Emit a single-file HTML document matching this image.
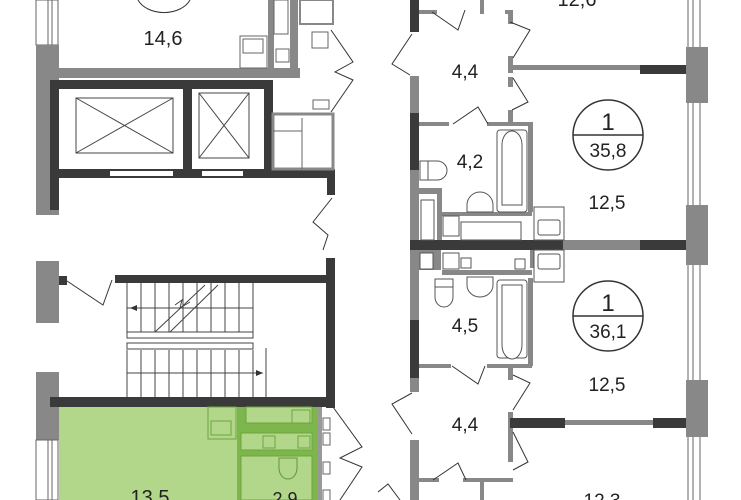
<!DOCTYPE html>
<html><head><style>html,body{margin:0;padding:0;background:#fff}svg{display:block}text{font-family:"Liberation Sans",sans-serif;fill:#222}</style></head>
<body>
<svg width="741" height="500" viewBox="0 0 741 500" xmlns="http://www.w3.org/2000/svg">
<rect x="36" y="0" width="22" height="45" fill="#fff" stroke="#666" stroke-width="1"/>
<line x1="48" y1="0" x2="48" y2="45" stroke="#666"/><line x1="52" y1="0" x2="52" y2="45" stroke="#666"/>
<rect x="36" y="45" width="23" height="170" fill="#888"/>
<rect x="58" y="68" width="242" height="10" fill="#888"/>
<rect x="268" y="0" width="6" height="70" fill="#888"/>
<rect x="290" y="0" width="8" height="75" fill="#888"/>
<rect x="274" y="0" width="14" height="34" fill="#fff" stroke="#666"/>
<rect x="276" y="49" width="13" height="13" fill="#fff" stroke="#666"/>
<rect x="240" y="36" width="27" height="32" fill="#fff" stroke="#666"/>
<rect x="243" y="39" width="20" height="14" fill="#fff" stroke="#666"/>
<rect x="300" y="0" width="33" height="24" fill="#fff" stroke="#888" stroke-width="2"/>
<rect x="312" y="32" width="16" height="16" fill="#fff" stroke="#666"/>
<rect x="313" y="100" width="16" height="9" fill="#fff" stroke="#666"/>
<text x="163" y="45" font-size="20" text-anchor="middle">14,6</text>
<path d="M138,0 A28,20 0 0 0 190,0" fill="none" stroke="#333"/>
<rect x="50" y="80" width="223" height="9" fill="#3a3a3a"/>
<rect x="50" y="80" width="9" height="130" fill="#3a3a3a"/>
<rect x="183" y="80" width="9" height="98" fill="#3a3a3a"/>
<rect x="264" y="80" width="9" height="98" fill="#3a3a3a"/>
<rect x="50" y="169" width="285" height="9" fill="#3a3a3a"/>
<rect x="110" y="171" width="63" height="5" fill="#fff"/>
<rect x="202" y="171" width="41" height="5" fill="#fff"/>
<rect x="327" y="169" width="8" height="26" fill="#3a3a3a"/>
<rect x="76" y="98" width="97" height="55" fill="none" stroke="#444"/>
<path d="M76,98L173,153M173,98L76,153" stroke="#444"/>
<rect x="199" y="93" width="50" height="65" fill="none" stroke="#444"/>
<path d="M199,93L249,158M249,93L199,158" stroke="#444"/>
<rect x="273" y="114" width="60" height="55" fill="#fff" stroke="#888" stroke-width="3"/>
<line x1="273" y1="131" x2="302" y2="131" stroke="#666"/><line x1="302" y1="118" x2="302" y2="169" stroke="#666"/>
<path d="M331,30 L353,62 L335,72 L353,80 L331,112" fill="none" stroke="#333"/>
<path d="M332,198 L313,222 L328,235 L323,250" fill="none" stroke="#333"/>
<rect x="36" y="261" width="23" height="62" fill="#888"/>
<rect x="59" y="276" width="8" height="9" fill="#3a3a3a"/>
<path d="M67,281 L103,305 L112,280" fill="none" stroke="#333"/>
<rect x="36" y="372" width="23" height="68" fill="#888"/>
<rect x="36" y="440" width="22" height="60" fill="#fff" stroke="#666"/>
<line x1="48" y1="440" x2="48" y2="500" stroke="#666"/><line x1="52" y1="440" x2="52" y2="500" stroke="#666"/>
<rect x="115" y="275" width="212" height="8" fill="#3a3a3a"/>
<rect x="326" y="258" width="9" height="150" fill="#3a3a3a"/>
<rect x="50" y="397" width="285" height="10" fill="#3a3a3a"/>
<g stroke="#444" fill="none">
<path d="M127,283V332M141,283V332M155,283V332M169,283V332M183,283V332M197,283V332M211,283V332M225,283V332M239,283V332M253,283V332"/>
<path d="M127,350V397M141,350V397M155,350V397M169,350V397M183,350V397M197,350V397M211,350V397M225,350V397M239,350V397M253,350V397M266,348V397"/>
<path d="M127,308H253M127,373H263"/>
<rect x="127" y="332" width="126" height="6"/><rect x="127" y="343" width="126" height="6"/>
<path d="M155,332L205,285M170,332L218,285"/>
<path d="M175,305L182,300L180,308L190,302"/>
</g>
<path d="M130,308l7,-3v6z M263,373l-7,-3v6z" fill="#333"/>
<rect x="59" y="407" width="262" height="93" fill="#b2d68a"/>
<rect x="237" y="407" width="81" height="93" fill="#7eb64e"/>
<rect x="246" y="407" width="66" height="16" fill="#b2d68a" stroke="#6da63f"/>
<rect x="292" y="410" width="18" height="13" fill="#b2d68a" stroke="#6da63f"/>
<rect x="241" y="433" width="71" height="17" fill="#b2d68a" stroke="#6da63f"/>
<rect x="263" y="436" width="12" height="12" fill="#b2d68a" stroke="#6da63f"/>
<rect x="298" y="436" width="12" height="12" fill="#b2d68a" stroke="#6da63f"/>
<rect x="241" y="456" width="71" height="44" fill="#b2d68a" stroke="#6da63f"/>
<rect x="208" y="407" width="28" height="32" fill="#b2d68a" stroke="#6da63f"/>
<rect x="211" y="421" width="20" height="14" fill="none" stroke="#6da63f"/>
<path d="M279,458h18v10a9,11 0 1 1 -18,0z" fill="none" stroke="#5e9a35"/>
<rect x="318" y="407" width="4" height="93" fill="#999"/>
<g fill="#fff" stroke="#666"><rect x="323" y="418" width="7" height="12"/><rect x="323" y="433" width="7" height="12"/><rect x="323" y="462" width="7" height="12"/><rect x="323" y="490" width="7" height="12"/></g>
<path d="M333,407 L362,447 L340,458 L362,467 L340,500" fill="none" stroke="#333"/>
<text x="150" y="504" font-size="20" text-anchor="middle">13,5</text>
<text x="285" y="505" font-size="18" text-anchor="middle">2,9</text>
<rect x="410" y="0" width="9" height="32" fill="#3a3a3a"/>
<rect x="410" y="76" width="9" height="37" fill="#888"/>
<rect x="410" y="113" width="9" height="57" fill="#3a3a3a"/>
<rect x="410" y="170" width="9" height="70" fill="#888"/>
<rect x="410" y="250" width="9" height="70" fill="#888"/>
<rect x="410" y="320" width="9" height="58" fill="#3a3a3a"/>
<rect x="410" y="378" width="9" height="14" fill="#888"/>
<rect x="410" y="440" width="9" height="60" fill="#888"/>
<path d="M412,34 L392,64 L410,75" fill="none" stroke="#333"/>
<path d="M412,393 L392,404 L412,434" fill="none" stroke="#333"/>
<path d="M400,500 L388,484 L378,492" fill="none" stroke="#333"/>
<g fill="#888">
<rect x="419" y="10" width="18" height="4"/><rect x="480" y="0" width="4" height="14"/><rect x="505" y="10" width="7" height="4"/>
<rect x="508" y="10" width="5" height="14"/><rect x="508" y="56" width="5" height="17"/><rect x="512" y="65" width="128" height="5"/>
<rect x="508" y="77" width="5" height="10"/><rect x="508" y="110" width="5" height="14"/>
<rect x="419" y="122" width="30" height="4"/><rect x="487" y="122" width="45" height="4"/><rect x="528" y="122" width="5" height="90"/>
<rect x="419" y="188" width="22" height="6"/><rect x="437" y="188" width="5" height="52"/><rect x="442" y="212" width="90" height="4"/>
<rect x="535" y="240" width="110" height="10"/>
<rect x="419" y="250" width="22" height="20"/><rect x="442" y="270" width="90" height="5"/><rect x="530" y="250" width="5" height="18"/>
<rect x="528" y="278" width="5" height="88"/><rect x="419" y="364" width="32" height="4"/><rect x="487" y="364" width="45" height="4"/>
<rect x="508" y="368" width="5" height="12"/><rect x="508" y="412" width="5" height="50"/><rect x="565" y="420" width="88" height="5"/>
<rect x="419" y="478" width="20" height="4"/><rect x="463" y="478" width="50" height="4"/><rect x="480" y="478" width="4" height="22"/>
</g>
<rect x="410" y="240" width="153" height="10" fill="#3a3a3a"/>
<rect x="640" y="240" width="57" height="10" fill="#3a3a3a"/>
<rect x="640" y="65" width="57" height="9" fill="#3a3a3a"/>
<rect x="510" y="418" width="55" height="10" fill="#3a3a3a"/>
<rect x="653" y="418" width="44" height="10" fill="#3a3a3a"/>
<g fill="#888"><rect x="686" y="47" width="22" height="56"/><rect x="686" y="205" width="22" height="60"/><rect x="686" y="380" width="22" height="57"/></g>
<g stroke="#666" fill="none">
<path d="M688,0V47M693,0V47M700,0V47M688,103V205M693,103V205M700,103V205M688,265V380M693,265V380M700,265V380M688,437V500M693,437V500M700,437V500"/>
</g>
<g fill="none" stroke="#333">
<path d="M432,12 L458,30 L465,10"/><path d="M510,22 L530,30 L513,58"/><path d="M513,78 L528,102 L512,110"/>
<path d="M453,124 L478,107 L488,124"/><path d="M452,366 L478,384 L485,366"/><path d="M513,375 L530,383 L513,410"/>
<path d="M513,432 L528,462 L513,470"/><path d="M433,480 L458,463 L466,480"/>
</g>
<g fill="#fff" stroke="#555">
<rect x="497" y="130" width="30" height="82" rx="3"/><path d="M502,205V145a10,14 0 0 1 20,0V205z"/>
<rect x="497" y="280" width="30" height="78" rx="3"/><path d="M502,285V345a10,14 0 0 0 20,0V285z"/>
<path d="M420,161h8v19h-8z"/><path d="M428,161h9a10,9.5 0 0 1 0,19h-9z"/>
<path d="M435,279h18v8h-18z"/><path d="M435,287h18v10a9,10 0 0 1 -18,0z"/>
<path d="M467,212v-7a13,13 0 0 1 26,0v7z"/><path d="M467,277v8a13,12 0 0 0 26,0v-8z"/>
<rect x="534" y="207" width="30" height="33"/><rect x="538" y="220" width="22" height="15" rx="2"/>
<rect x="534" y="250" width="30" height="32"/><rect x="538" y="254" width="22" height="15" rx="2"/>
<rect x="443" y="216" width="16" height="20"/><rect x="461" y="222" width="60" height="18"/>
<rect x="443" y="253" width="16" height="16"/><rect x="461" y="258" width="10" height="10"/><rect x="515" y="259" width="10" height="10"/>
<rect x="421" y="200" width="13" height="40"/><rect x="420" y="253" width="13" height="16"/>
</g>
<circle cx="608" cy="135" r="35" fill="#fff" stroke="#333" stroke-width="1.5"/>
<line x1="573" y1="135" x2="643" y2="135" stroke="#333" stroke-width="1.5"/>
<text x="608" y="130" font-size="24" text-anchor="middle">1</text>
<text x="608" y="157" font-size="19" text-anchor="middle">35,8</text>
<circle cx="608" cy="316" r="35" fill="#fff" stroke="#333" stroke-width="1.5"/>
<line x1="573" y1="316" x2="643" y2="316" stroke="#333" stroke-width="1.5"/>
<text x="608" y="311" font-size="24" text-anchor="middle">1</text>
<text x="608" y="338" font-size="19" text-anchor="middle">36,1</text>
<text x="577" y="6" font-size="20" text-anchor="middle">12,6</text>
<text x="465" y="78" font-size="19" text-anchor="middle">4,4</text>
<text x="470" y="168" font-size="19" text-anchor="middle">4,2</text>
<text x="607" y="209" font-size="19" text-anchor="middle">12,5</text>
<text x="465" y="332" font-size="19" text-anchor="middle">4,5</text>
<text x="607" y="391" font-size="19" text-anchor="middle">12,5</text>
<text x="465" y="431" font-size="19" text-anchor="middle">4,4</text>
<text x="602" y="507" font-size="19" text-anchor="middle">12,3</text>
</svg>
</body></html>
